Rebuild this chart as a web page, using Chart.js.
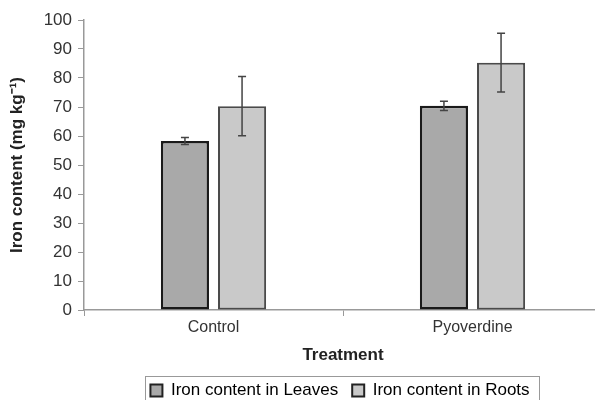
<!DOCTYPE html>
<html>
<head>
<meta charset="utf-8">
<script src="https://cdn.jsdelivr.net/npm/chart.js@4/dist/chart.umd.min.js"></script>
<style>
  html, body { margin: 0; padding: 0; background: #fff; overflow: hidden; }
  #wrap { width: 602px; height: 400px; }
</style>
</head>
<body>
<div id="wrap"><canvas id="chart"></canvas></div>
<script>
const categories = ['Control', 'Pyoverdine'];
const leaves = [58.3, 70.4];
const leavesErr = [1.2, 1.6];
const roots = [70.3, 85.3];
const rootsErr = [10.2, 10.1];
const yTicks = [0, 10, 20, 30, 40, 50, 60, 70, 80, 90, 100];

const FONT = 'Liberation Sans, Arial, sans-serif';

// error bars drawn over each bar
const errorBars = {
  id: 'errorBars',
  afterDatasetsDraw(chart) {
    const c = chart.ctx;
    const y = chart.scales.y;
    c.save();
    c.strokeStyle = '#444';
    c.lineWidth = 1.5;
    chart.data.datasets.forEach((ds, i) => {
      const meta = chart.getDatasetMeta(i);
      meta.data.forEach((bar, j) => {
        const v = ds.data[j], e = ds.errors[j];
        const top = y.getPixelForValue(v + e);
        const bot = y.getPixelForValue(v - e);
        c.beginPath();
        c.moveTo(bar.x, top); c.lineTo(bar.x, bot);
        c.moveTo(bar.x - 4, top); c.lineTo(bar.x + 4, top);
        c.moveTo(bar.x - 4, bot); c.lineTo(bar.x + 4, bot);
        c.stroke();
      });
    });
    c.restore();
  },
};

// fixed legend height, centred under the plot area, with a frame
const legendFrame = {
  id: 'legendFrame',
  beforeLayout(chart) {
    const lg = chart.legend;
    if (lg && !lg._fixedFit) {
      const fit = lg.fit;
      lg.fit = function () { fit.call(this); this.height = 32; };
      lg._fixedFit = true;
    }
  },
  afterLayout(chart) {
    const lg = chart.legend;
    lg.left = chart.chartArea.left - 3;
    lg.right = chart.chartArea.right - 3;
  },
  afterDraw(chart) {
    const boxes = chart.legend.legendHitBoxes;
    if (!boxes || !boxes.length) return;
    const left = Math.min(...boxes.map((b) => b.left)) - 5;
    const right = Math.max(...boxes.map((b) => b.left + b.width)) + 10;
    const top = Math.min(...boxes.map((b) => b.top)) - 6;
    const bottom = Math.max(...boxes.map((b) => b.top + b.height)) + 8;
    const c = chart.ctx;
    c.save();
    c.strokeStyle = '#999';
    c.lineWidth = 1;
    c.strokeRect(Math.round(left) + 0.5, Math.round(top) + 0.5, Math.round(right - left), Math.round(bottom - top));
    c.restore();
  },
};

new Chart(document.getElementById('chart'), {
  type: 'bar',
  data: {
    labels: categories,
    datasets: [
      {
        label: 'Iron content in Leaves',
        data: leaves,
        errors: leavesErr,
        backgroundColor: '#a9a9a9',
        borderColor: '#1a1a1a',
        borderWidth: 2.5,
        borderSkipped: false,
      },
      {
        label: 'Iron content in Roots',
        data: roots,
        errors: rootsErr,
        backgroundColor: '#c9c9c9',
        borderColor: '#4a4a4a',
        borderWidth: 2,
        borderSkipped: false,
      },
    ],
  },
  options: {
    responsive: true,
    maintainAspectRatio: false,
    animation: false,
    categoryPercentage: 0.441,
    barPercentage: 0.842,
    layout: { padding: { top: 20, bottom: 0 } },
    scales: {
      x: {
        afterFit: (scale) => { scale.height = 58; },
        grid: { display: true, drawOnChartArea: false, offset: true, color: '#999', tickLength: 6 },
        border: { color: '#999', width: 1.5 },
        ticks: { color: '#333', font: { family: FONT, size: 16 }, padding: 2 },
        title: { display: true, text: 'Treatment', color: '#222', font: { family: FONT, size: 17, weight: 'bold' }, padding: { top: 4, bottom: 2 } },
      },
      y: {
        min: 0,
        max: 100,
        afterBuildTicks: (scale) => { scale.ticks = yTicks.map((v) => ({ value: v })); },
        afterFit: (scale) => { scale.width = 84; },
        grid: { display: true, drawOnChartArea: false, color: '#999', tickLength: 6 },
        border: { color: '#999', width: 1.5 },
        ticks: { color: '#333', font: { family: FONT, size: 17 }, padding: 6 },
        title: { display: true, text: 'Iron content (mg kg⁻¹)', color: '#222', font: { family: FONT, size: 17, weight: 'bold' }, padding: { top: 7, bottom: 4 } },
      },
    },
    plugins: {
      legend: {
        position: 'bottom',
        align: 'center',
        labels: {
          color: '#222',
          font: { family: FONT, size: 17 },
          boxWidth: 12,
          boxHeight: 12,
          padding: 14,
          generateLabels: (chart) => chart.data.datasets.map((ds, i) => ({
            text: ds.label,
            fillStyle: ds.backgroundColor,
            strokeStyle: '#222',
            lineWidth: 2,
            datasetIndex: i,
          })),
        },
      },
      tooltip: { enabled: false },
    },
  },
  plugins: [errorBars, legendFrame],
});
</script>
</body>
</html>
